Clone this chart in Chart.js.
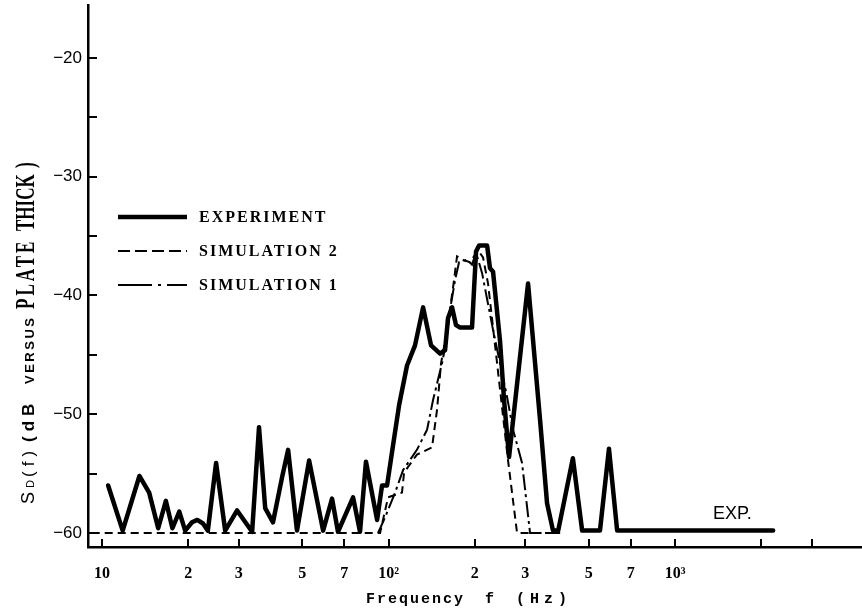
<!DOCTYPE html>
<html>
<head>
<meta charset="utf-8">
<script src="https://cdn.jsdelivr.net/npm/chart.js@4.4.0/dist/chart.umd.min.js"></script>
<style>
  html, body { margin: 0; padding: 0; background: #fff; }
  #wrap { width: 862px; height: 613px; position: relative; }
</style>
</head>
<body>
<div id="wrap"><canvas id="chart"></canvas></div>
<script>
// ==== DATA ====
// frequency in Hz, level in dB
const expFreq = [10.5, 11.8, 13.5, 14.6, 15.7, 16.7, 17.6, 18.6, 19.5, 20.6, 21.5, 22.5, 23.4, 25.0, 26.9,
    29.6, 33.4, 35.3, 37.1, 39.5, 42.5, 44.6, 47.9, 52.8, 59.1, 63.5, 66.6, 75.2, 79.5, 83.4, 91.2, 94.9,
    98.8, 103.7, 108.9, 116, 123.7, 132, 140.7, 151.3, 157.5, 161.3, 166.6, 172, 177.7, 195.6, 202, 207,
    220.8, 226, 231.6, 244.9, 253, 263.4, 306.9, 338, 357.5, 375, 391, 440, 474, 547, 588, 628, 2200];
const expLevel = [-56.0, -59.8, -55.2, -56.6, -59.6, -57.3, -59.6, -58.2, -59.8, -59.1, -58.9, -59.2, -59.8, -54.1, -59.8,
    -58.1, -59.9, -51.1, -57.9, -59.1, -55.3, -53.0, -59.8, -53.9, -59.8, -57.1, -59.9, -57.0, -59.9, -54.0, -58.9, -56.0,
    -56.0, -52.6, -49.2, -45.9, -44.2, -41.0, -44.2, -44.9, -44.6, -41.9, -41.0, -42.5, -42.7, -42.7, -36.3, -35.8,
    -35.8, -37.7, -38.0, -43.8, -48.8, -53.6, -39.0, -50.5, -57.5, -59.8, -59.8, -53.7, -59.8, -59.8, -52.9, -59.8, -59.8];

const sim2Freq = [9.2, 93.4, 99.6, 111.4, 113.3, 125.6, 141.8, 147.7, 152.5, 160, 168, 173.4, 182, 192.5,
    205.3, 213.7, 222.5, 239.2, 261.3, 280.9, 397];
const sim2Level = [-60, -60, -57.0, -56.6, -54.9, -53.4, -52.8, -49.6, -45.7, -42.9, -39.3, -36.7, -37.0, -37.2,
    -36.2, -36.8, -39.0, -45.7, -53.9, -60, -60];

const sim1Freq = [91.9, 97.2, 105.4, 112.4, 125.6, 136.3, 143, 153.7, 158.7, 163.9, 170.7, 176.2, 187.9, 195.6,
    202, 212, 231.6, 259, 272, 292.4, 311.8, 397];
const sim1Level = [-60, -58.7, -56.6, -54.7, -53.0, -51.3, -48.8, -45.7, -44.0, -41.2, -38.7, -37.2, -37.0, -37.4,
    -36.4, -38.1, -42.9, -48.5, -51.3, -54.1, -60, -60];

const xTickValues = [10, 20, 30, 50, 70, 100, 200, 300, 500, 700, 1000, 2000, 3000];
const xTickLabels = ['10', '2', '3', '5', '7', '10\u00B2', '2', '3', '5', '7', '10\u00B3', '', ''];
const yTickValues = [-60, -55, -50, -45, -40, -35, -30, -25, -20];
const yTickLabels = ['\u221260', '', '\u221250', '', '\u221240', '', '\u221230', '', '\u221220'];

const seriesLabels = ['EXPERIMENT', 'SIMULATION 2', 'SIMULATION 1'];

const toPoints = (xs, ys) => xs.map((f, i) => ({ x: f, y: ys[i] }));

// ===== INWARD TICK MARKS =====
const inwardTicks = {
    id: 'inwardTicks',
    afterDraw(chart) {
        const { ctx, chartArea, scales: { x, y } } = chart;
        ctx.save();
        ctx.strokeStyle = '#000';
        ctx.lineWidth = 2;
        ctx.beginPath();
        yTickValues.forEach(v => {
            const py = Math.round(y.getPixelForValue(v));
            ctx.moveTo(chartArea.left, py);
            ctx.lineTo(chartArea.left + 9, py);
        });
        xTickValues.forEach(v => {
            const px = Math.round(x.getPixelForValue(v));
            ctx.moveTo(px, chartArea.bottom);
            ctx.lineTo(px, chartArea.bottom - 8);
        });
        ctx.stroke();
        ctx.restore();
    }
};

// ===== TITLES, LEGEND, NOTE =====
const annotations = {
    id: 'annotations',
    afterDraw(chart) {
        const ctx = chart.ctx;
        ctx.save();
        ctx.fillStyle = '#000';

        // y title, rotated, mixed sizes
        const yParts = [
            ['S', '18px "Liberation Sans"', 504, 1, '0px'],
            ['D', '11px "Liberation Sans"', 488, 1, '0px'],
            ['(f)', '17px "Liberation Sans"', 477, 1, '5px'],
            ['(dB', 'bold 17px "Liberation Sans"', 442, 1, '5px'],
            ['VERSUS', 'bold 13px "Liberation Sans"', 384, 1, '2.5px'],
            ['PLATE', 'bold 17px "Liberation Serif"', 309, 1.6, '3px'],
            ['THICK', 'bold 17px "Liberation Serif"', 231, 1.6, '0px'],
            [')', 'bold 17px "Liberation Serif"', 168, 1.6, '0px']
        ];
        yParts.forEach(([t, font, y0, stretch, sp]) => {
            ctx.save();
            ctx.translate(34, y0);
            ctx.rotate(-Math.PI / 2);
            ctx.scale(1, stretch);
            ctx.font = font;
            ctx.letterSpacing = sp;
            ctx.textBaseline = 'alphabetic';
            ctx.fillText(t, 0, 0);
            ctx.restore();
        });

        // x title
        ctx.font = 'bold 15px "Liberation Mono"';
        ctx.textBaseline = 'alphabetic';
        ctx.letterSpacing = '2px';
        ctx.fillText('Frequency', 366, 603);
        ctx.fillText('f', 485, 603);
        ctx.letterSpacing = '5px';
        ctx.fillText('(Hz)', 516, 603);

        // legend
        const rows = [217, 251, 285];
        chart.data.datasets.forEach((ds, i) => {
            ctx.save();
            ctx.strokeStyle = '#000';
            ctx.lineWidth = ds.borderWidth;
            ctx.setLineDash(ds.legendDash || []);
            ctx.beginPath();
            ctx.moveTo(118, rows[i]);
            ctx.lineTo(187, rows[i]);
            ctx.stroke();
            ctx.restore();
            ctx.font = 'bold 16px "Liberation Serif"';
            ctx.letterSpacing = '2px';
            ctx.textBaseline = 'middle';
            ctx.fillText(ds.label, 199, rows[i] + 1);
        });

        // EXP. note
        ctx.letterSpacing = '0px';
        ctx.font = '18px "Liberation Sans"';
        ctx.textBaseline = 'alphabetic';
        ctx.fillText('EXP.', 713, 519);
        ctx.restore();
    }
};

new Chart(document.getElementById('chart'), {
    type: 'line',
    data: {
        datasets: [{
            label: seriesLabels[0],
            data: toPoints(expFreq, expLevel),
            borderColor: '#000',
            borderWidth: 4.5,
            borderJoinStyle: 'round',
            borderCapStyle: 'round',
            pointRadius: 0,
            tension: 0,
            legendDash: []
        }, {
            label: seriesLabels[1],
            data: toPoints(sim2Freq, sim2Level),
            borderColor: '#000',
            borderWidth: 2,
            borderDash: [8, 5],
            pointRadius: 0,
            tension: 0,
            legendDash: [12, 5]
        }, {
            label: seriesLabels[2],
            data: toPoints(sim1Freq, sim1Level),
            borderColor: '#000',
            borderWidth: 2,
            borderDash: [16, 4, 3, 4],
            pointRadius: 0,
            tension: 0,
            legendDash: [34, 6, 3, 6]
        }]
    },
    options: {
        responsive: true,
        maintainAspectRatio: false,
        animation: false,
        devicePixelRatio: 1,
        layout: { padding: { top: 5, left: 0, right: 0, bottom: 0 } },
        plugins: { legend: { display: false }, tooltip: { enabled: false } },
        scales: {
            x: {
                type: 'logarithmic',
                min: 8.93,
                max: 4494,
                grid: { display: false, drawTicks: false },
                border: { display: true, color: '#000', width: 2.5 },
                ticks: {
                    autoSkip: false,
                    maxRotation: 0,
                    padding: 17,
                    color: '#000',
                    font: { family: '"Liberation Serif"', size: 16, weight: 'bold' },
                    callback: (v, i) => xTickLabels[i]
                },
                afterBuildTicks: s => { s.ticks = xTickValues.map(v => ({ value: v })); },
                afterFit: s => { s.height = 66; s.paddingLeft = 0; s.paddingRight = 0; }
            },
            y: {
                min: -61.18,
                max: -15.54,
                grid: { display: false, drawTicks: false },
                border: { display: true, color: '#000', width: 2.5 },
                ticks: {
                    padding: 6,
                    color: '#000',
                    font: { family: '"Liberation Sans"', size: 17 },
                    callback: (v, i) => yTickLabels[i]
                },
                afterBuildTicks: s => { s.ticks = yTickValues.map(v => ({ value: v })); },
                afterFit: s => { s.width = 88; s.paddingTop = 0; s.paddingBottom = 0; }
            }
        }
    },
    plugins: [inwardTicks, annotations]
});
</script>
</body>
</html>
